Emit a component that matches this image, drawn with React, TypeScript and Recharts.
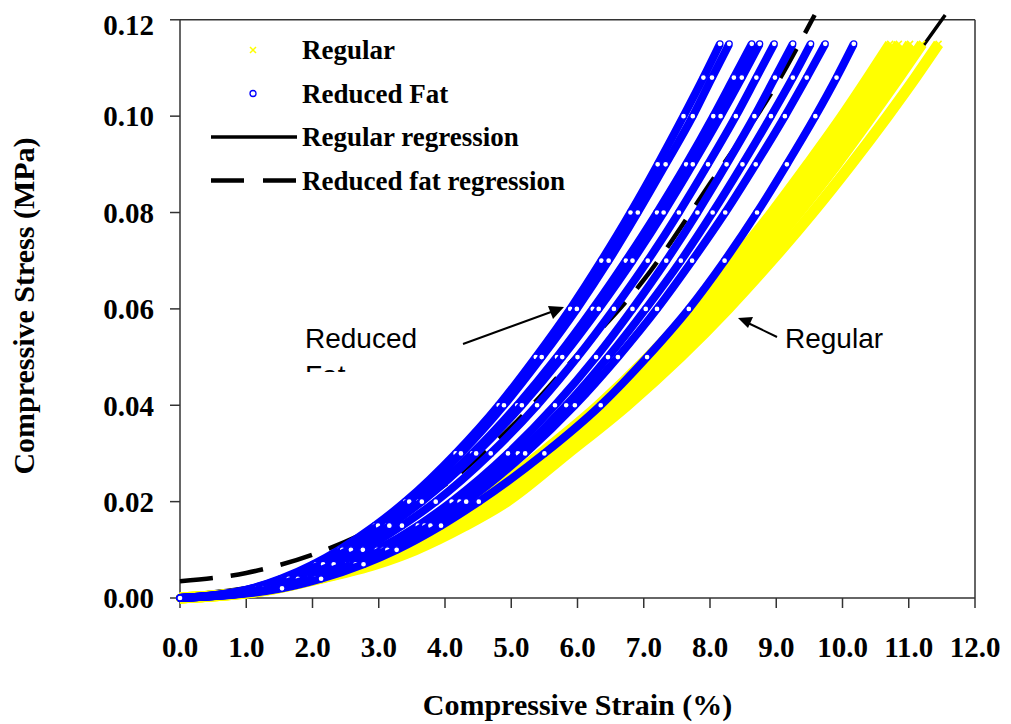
import React from 'react';
import { ScatterChart, Scatter, XAxis, YAxis, ReferenceLine, Legend } from 'recharts';

const BLUE = '#0000FF';
const YELLOW = '#FFFF00';
const AXIS = '#333';
const SERIF = '"Liberation Serif", "Times New Roman", serif';
const SANS = '"Liberation Sans", Arial, sans-serif';

// stress levels (MPa) at which the strain (%) of each replicate was read
const STRESS_LEVELS = [0, 0.002, 0.004, 0.007, 0.01, 0.015, 0.02, 0.03, 0.04, 0.05, 0.06, 0.07, 0.08, 0.09, 0.1, 0.108, 0.115];

const reducedFatStrains = [
  [0, 1.08, 1.52, 2.01, 2.4, 2.94, 3.4, 4.16, 4.81, 5.37, 5.89, 6.36, 6.8, 7.21, 7.6, 7.9, 8.15],
  [0, 1.09, 1.55, 2.05, 2.45, 2.99, 3.46, 4.24, 4.89, 5.46, 5.99, 6.47, 6.91, 7.33, 7.74, 8.03, 8.29],
  [0, 1.14, 1.61, 2.13, 2.55, 3.12, 3.6, 4.41, 5.09, 5.69, 6.23, 6.73, 7.2, 7.64, 8.05, 8.36, 8.63],
  [0, 1.16, 1.64, 2.16, 2.58, 3.16, 3.65, 4.47, 5.16, 5.77, 6.32, 6.83, 7.3, 7.74, 8.16, 8.48, 8.75],
  [0, 1.27, 1.78, 2.32, 2.76, 3.35, 3.86, 4.69, 5.39, 6.0, 6.55, 7.06, 7.53, 7.97, 8.39, 8.7, 8.97],
  [0, 1.4, 1.94, 2.52, 2.97, 3.59, 4.1, 4.95, 5.66, 6.28, 6.83, 7.34, 7.81, 8.25, 8.67, 8.98, 9.25],
  [0, 1.45, 2.0, 2.59, 3.06, 3.69, 4.22, 5.1, 5.83, 6.46, 7.03, 7.56, 8.04, 8.49, 8.92, 9.25, 9.52],
  [0, 1.48, 2.04, 2.65, 3.13, 3.78, 4.32, 5.21, 5.96, 6.61, 7.2, 7.73, 8.23, 8.69, 9.13, 9.46, 9.74],
  [0, 1.54, 2.13, 2.77, 3.27, 3.94, 4.51, 5.5, 6.35, 7.05, 7.68, 8.22, 8.71, 9.16, 9.59, 9.91, 10.17],
];

const regularStrains = [
  [0, 1.4, 2.0, 2.72, 3.28, 3.98, 4.52, 5.45, 6.32, 7.07, 7.74, 8.36, 8.94, 9.48, 10.0, 10.39, 10.72],
  [0, 1.42, 2.03, 2.78, 3.36, 4.06, 4.62, 5.52, 6.4, 7.15, 7.84, 8.47, 9.05, 9.6, 10.12, 10.51, 10.85],
  [0, 1.44, 2.06, 2.85, 3.43, 4.15, 4.72, 5.62, 6.5, 7.26, 7.96, 8.6, 9.19, 9.75, 10.28, 10.68, 11.02],
  [0, 1.45, 2.08, 2.9, 3.5, 4.23, 4.83, 5.72, 6.6, 7.38, 8.09, 8.74, 9.34, 9.91, 10.44, 10.85, 11.2],
  [0, 1.46, 2.1, 2.95, 3.55, 4.3, 4.93, 5.85, 6.75, 7.55, 8.27, 8.93, 9.55, 10.13, 10.68, 11.1, 11.45],
];

const regRegStrain = [0, 2, 4, 6, 8, 9, 10, 10.5, 11, 11.55];
const regRegStress = [0.0005, 0.005, 0.016, 0.034, 0.059, 0.0745, 0.0925, 0.1015, 0.1105, 0.121];

const rfRegStrain = [0, 1, 2, 3, 4, 5, 6, 7, 8, 9, 9.58];
const rfRegStress = [0.0035, 0.0052, 0.009, 0.015, 0.0235, 0.0355, 0.0505, 0.066, 0.086, 0.1065, 0.121];

const X_TICKS = [0, 1, 2, 3, 4, 5, 6, 7, 8, 9, 10, 11, 12];
const Y_TICKS = [0, 0.02, 0.04, 0.06, 0.08, 0.1, 0.12];

const toPoints = (strains: number[]) => strains.map((x, i) => ({ x, y: STRESS_LEVELS[i] }));
const pairPoints = (xs: number[], ys: number[]) => xs.map((x, i) => ({ x, y: ys[i] }));

const blueCircle = (p: any) => (
  <circle cx={p.cx} cy={p.cy} r={3} fill="#fff" stroke={BLUE} strokeWidth={1.3} />
);

const yellowCross = (p: any) => (
  <path
    d={`M${p.cx - 3},${p.cy - 3}L${p.cx + 3},${p.cy + 3}M${p.cx + 3},${p.cy - 3}L${p.cx - 3},${p.cy + 3}`}
    stroke={YELLOW}
    strokeWidth={1.5}
  />
);

const noMarker = () => <g />;

const legendItems = [
  { label: 'Regular', kind: 'cross' },
  { label: 'Reduced Fat', kind: 'circle' },
  { label: 'Regular regression', kind: 'solid' },
  { label: 'Reduced fat regression', kind: 'dash' },
];

const renderLegend = () => (
  <svg width={400} height={180}>
    {legendItems.map((it, i) => {
      const cy = 20 + i * 43.5;
      return (
        <g key={it.label}>
          {it.kind === 'cross' && yellowCross({ cx: 53, cy })}
          {it.kind === 'circle' && blueCircle({ cx: 53, cy })}
          {it.kind === 'solid' && <line x1={11} x2={97} y1={cy} y2={cy} stroke="#000" strokeWidth={3.5} />}
          {it.kind === 'dash' && (
            <line x1={11} x2={97} y1={cy} y2={cy} stroke="#000" strokeWidth={4.5} strokeDasharray="33 19" />
          )}
          <text x={102} y={cy + 9} fontFamily={SERIF} fontWeight="bold" fontSize={27} fill="#000">
            {it.label}
          </text>
        </g>
      );
    })}
  </svg>
);

const tickStyle = { fontFamily: SERIF, fontWeight: 'bold', fontSize: 29, fill: '#000' };

export default function App() {
  return (
    <div style={{ position: 'relative', width: 1003, height: 716 }}>
      <ScatterChart width={1003} height={716} margin={{ top: 6, right: 36, left: 0, bottom: 0 }}>
        <XAxis
          type="number"
          dataKey="x"
          domain={[0, 12]}
          ticks={X_TICKS}
          tickFormatter={(v: number) => v.toFixed(1)}
          height={126}
          tickSize={10}
          tickMargin={28}
          stroke={AXIS}
          strokeWidth={1.5}
          tick={tickStyle}
          label={{
            value: 'Compressive Strain (%)',
            position: 'insideBottom',
            offset: 9,
            style: { fontFamily: SERIF, fontWeight: 'bold', fontSize: 30, fill: '#000' },
          }}
        />
        <YAxis
          type="number"
          dataKey="y"
          domain={[0, 0.1212]}
          ticks={Y_TICKS}
          tickFormatter={(v: number) => v.toFixed(2)}
          width={172}
          tickSize={10}
          tickMargin={16}
          axisLine={false}
          stroke={AXIS}
          strokeWidth={1.5}
          tick={tickStyle}
          label={{
            value: 'Compressive Stress (MPa)',
            angle: -90,
            position: 'insideLeft',
            offset: 15,
            style: { textAnchor: 'middle', fontFamily: SERIF, fontWeight: 'bold', fontSize: 30, fill: '#000' },
          }}
        />
        <ReferenceLine segment={[{ x: 0, y: 0 }, { x: 0, y: 0.12 }]} stroke={AXIS} strokeWidth={1.5} />
        <ReferenceLine segment={[{ x: 12, y: 0 }, { x: 12, y: 0.12 }]} stroke={AXIS} strokeWidth={1.5} />
        <ReferenceLine y={0.12} stroke={AXIS} strokeWidth={1.5} />

        <Scatter
          name="Regular regression"
          data={pairPoints(regRegStrain, regRegStress)}
          line={{ stroke: '#000', strokeWidth: 3.5 }}
          lineJointType="monotoneX"
          shape={noMarker}
          legendType="none"
          isAnimationActive={false}
        />
        <Scatter
          name="Reduced fat regression"
          data={pairPoints(rfRegStrain, rfRegStress)}
          line={{ stroke: '#000', strokeWidth: 4.5, strokeDasharray: '33 18' }}
          lineJointType="monotoneX"
          shape={noMarker}
          legendType="none"
          isAnimationActive={false}
        />
        {regularStrains.map((s, i) => (
          <Scatter
            key={`reg${i}`}
            name="Regular"
            data={toPoints(s)}
            line={{ stroke: YELLOW, strokeWidth: 11 }}
            lineJointType="monotoneX"
            shape={yellowCross}
            legendType="none"
            isAnimationActive={false}
          />
        ))}
        {reducedFatStrains.map((s, i) => (
          <Scatter
            key={`rf${i}`}
            name="Reduced Fat"
            data={toPoints(s)}
            line={{ stroke: BLUE, strokeWidth: 8 }}
            lineJointType="monotoneX"
            shape={blueCircle}
            legendType="none"
            isAnimationActive={false}
          />
        ))}
        <Legend
          layout="vertical"
          align="center"
          verticalAlign="middle"
          wrapperStyle={{ left: 192, top: 22, width: 400, height: 180 }}
          content={renderLegend}
        />
      </ScatterChart>

      <svg width={1003} height={716} style={{ position: 'absolute', left: 0, top: 0, pointerEvents: 'none' }}>
        <defs>
          <clipPath id="annoClip">
            <rect x={280} y={280} width={700} height={84} />
          </clipPath>
        </defs>
        <g clipPath="url(#annoClip)" fontFamily={SANS} fontSize={28} fill="#000">
          <text x={297} y={340}>Reduced</text>
          <text x={297} y={377}>Fat</text>
          <text x={777} y={340}>Regular</text>
        </g>
        <line x1={455} y1={336} x2={543} y2={304} stroke="#000" strokeWidth={2} />
        <path d="M556,299 L540,298 L545,311 Z" fill="#000" />
        <line x1={769} y1={329} x2={740} y2={315} stroke="#000" strokeWidth={2} />
        <path d="M730,310 L745,309 L740,320 Z" fill="#000" />
      </svg>
    </div>
  );
}
